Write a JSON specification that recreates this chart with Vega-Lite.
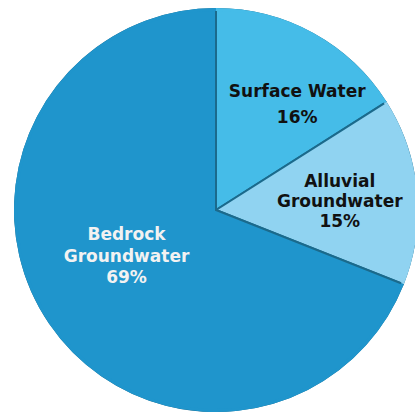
{
  "$schema": "https://vega.github.io/schema/vega-lite/v6.json",
  "width": 415,
  "height": 417,
  "autosize": {"type": "fit", "contains": "padding"},
  "padding": {"left": 17, "top": 3, "right": 0, "bottom": 0},
  "background": "white",
  "view": {"stroke": null},
  "data": {
    "values": [
      {"rank": 1, "source": "Surface Water", "pct": 16, "label": "Surface Water|16%"},
      {"rank": 2, "source": "Alluvial Groundwater", "pct": 15, "label": "Alluvial|Groundwater|15%"},
      {"rank": 3, "source": "Bedrock Groundwater", "pct": 69, "label": "Bedrock|Groundwater|69%"}
    ]
  },
  "encoding": {
    "theta": {"field": "pct", "type": "quantitative", "stack": true},
    "order": {"field": "rank", "type": "quantitative"},
    "color": {
      "field": "source",
      "type": "nominal",
      "scale": {
        "domain": ["Surface Water", "Alluvial Groundwater", "Bedrock Groundwater"],
        "range": ["#45bce8", "#90d3f1", "#1f95cc"]
      },
      "legend": null
    }
  },
  "layer": [
    {
      "mark": {"type": "arc", "outerRadius": 201, "stroke": "#1b6a8c", "strokeWidth": 2}
    },
    {
      "mark": {"type": "arc", "innerRadius": 199, "outerRadius": 202, "strokeWidth": 0}
    },
    {
      "mark": {"type": "text", "radius": 133, "thetaOffset": 0.154, "dy": -13, "font": "DejaVu Sans", "fontWeight": "bold", "fontSize": 17, "lineBreak": "|", "lineHeight": 26, "fill": "#111111", "baseline": "middle"},
      "encoding": {"color": {"value": "#111111"}, "text": {"condition": {"test": "datum.source === 'Surface Water'", "field": "label"}, "value": ""}}
    },
    {
      "mark": {"type": "text", "radius": 124, "thetaOffset": 0.03, "dy": -20, "font": "DejaVu Sans", "fontWeight": "bold", "fontSize": 17, "lineBreak": "|", "lineHeight": 20, "baseline": "middle"},
      "encoding": {"color": {"value": "#111111"}, "text": {"condition": {"test": "datum.source === 'Alluvial Groundwater'", "field": "label"}, "value": ""}}
    },
    {
      "mark": {"type": "text", "radius": 101, "thetaOffset": 0.115, "dy": -21.5, "font": "DejaVu Sans", "fontWeight": "bold", "fontSize": 17, "lineBreak": "|", "lineHeight": 21.5, "baseline": "middle"},
      "encoding": {"color": {"value": "#f2f2f2"}, "text": {"condition": {"test": "datum.source === 'Bedrock Groundwater'", "field": "label"}, "value": ""}}
    }
  ]
}
